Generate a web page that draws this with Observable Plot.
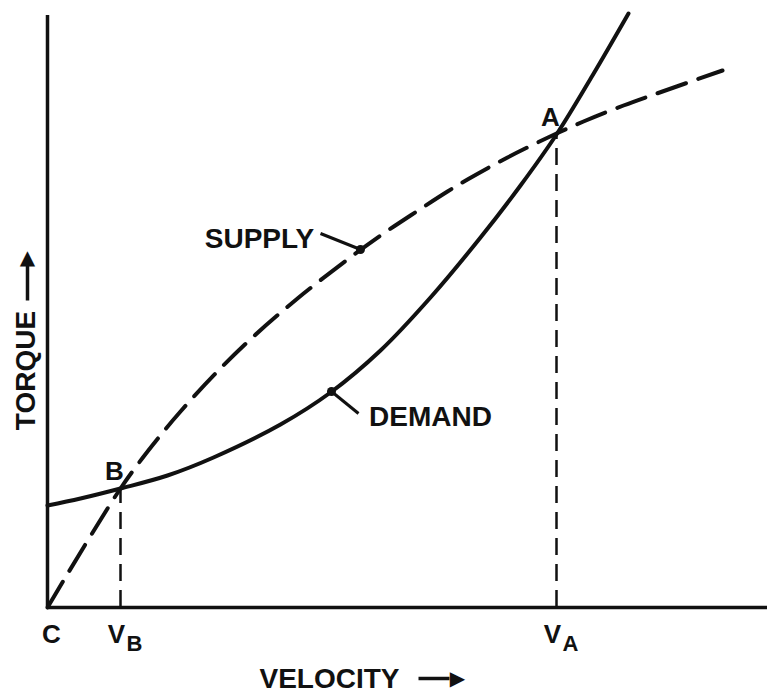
<!DOCTYPE html>
<html>
<head>
<meta charset="utf-8">
<script src="https://cdn.jsdelivr.net/npm/d3@7"></script>
<script src="https://cdn.jsdelivr.net/npm/@observablehq/plot@0.6"></script>
<style>
  html, body { margin: 0; padding: 0; background: #fff; }
</style>
</head>
<body>
<div id="chart"></div>
<script>
// Values (velocity, torque in arbitrary units)
const demandVelocity = [0, 33, 73, 120, 166, 233, 283, 333, 383, 433, 473, 509, 545, 581];
const demandTorque   = [102, 109, 119, 132, 150, 183, 215, 257, 310, 370, 422, 473, 532, 594];

const supplyVelocity = [0, 73, 108, 133, 168, 206, 250, 300, 333, 363, 400, 420, 460, 509, 536, 576, 615, 675];
const supplyTorque   = [0, 119, 166, 196, 234, 271, 309, 348, 372, 392, 416, 428, 450, 474, 486, 502, 516, 537];

const pointNames = ["B", "A"];           // intersections of supply and demand
const pointVelocity = [73, 509];
const pointTorque = [119, 473];

const axisMax = {velocity: 720, torque: 592};

const demand = demandVelocity.map((v, i) => ({v, t: demandTorque[i]}));
const supply = supplyVelocity.map((v, i) => ({v, t: supplyTorque[i]}));
const points = pointNames.map((n, i) => ({n, v: pointVelocity[i], t: pointTorque[i]}));

const ink = "#111";
const font = "Liberation Sans, Arial, sans-serif";

const chart = Plot.plot({
  width: 769,
  height: 695,
  margin: 0,
  style: {background: "#fff", fontFamily: font},
  x: {domain: [0, 720], range: [47, 767], axis: null},
  y: {domain: [0, 600], range: [607, 7], axis: null},
  marks: [
    // axes
    Plot.ruleX([0], {y1: 0, y2: axisMax.torque, stroke: ink, strokeWidth: 3.5}),
    Plot.ruleY([0], {x1: 0, x2: axisMax.velocity, stroke: ink, strokeWidth: 3.5}),
    // drop lines from the intersections
    Plot.ruleX(points, {x: "v", y1: 0, y2: "t", stroke: ink, strokeWidth: 2.5, strokeDasharray: "17,9"}),
    // demand (solid)
    Plot.line(demand, {x: "v", y: "t", curve: "catmull-rom", stroke: ink, strokeWidth: 4, strokeLinecap: "round"}),
    // supply (dashed)
    Plot.line(supply, {x: "v", y: "t", curve: "catmull-rom", stroke: ink, strokeWidth: 4, strokeLinecap: "round", strokeDasharray: "30,13"}),
    // leaders
    Plot.link([{x1: 273, y1: 374, x2: 313, y2: 358}], {x1: "x1", y1: "y1", x2: "x2", y2: "y2", stroke: ink, strokeWidth: 3}),
    Plot.dot([{x: 313, y: 358}], {x: "x", y: "y", r: 4.5, fill: ink}),
    Plot.link([{x1: 284, y1: 216, x2: 311, y2: 194}], {x1: "x1", y1: "y1", x2: "x2", y2: "y2", stroke: ink, strokeWidth: 3}),
    Plot.dot([{x: 284, y: 216}], {x: "x", y: "y", r: 4.5, fill: ink}),
    // curve labels
    Plot.text(["SUPPLY"], {x: 212, y: 360, text: d => d, fontSize: 28, fontWeight: "bold", fill: ink, textAnchor: "middle", lineAnchor: "bottom", fontFamily: font}),
    Plot.text(["DEMAND"], {x: 383, y: 182, text: d => d, fontSize: 28, fontWeight: "bold", fill: ink, textAnchor: "middle", lineAnchor: "bottom", fontFamily: font}),
    // point labels
    Plot.text(points, {x: d => d.v - 6, y: d => d.t + 9, text: "n", fontSize: 26, fontWeight: "bold", fill: ink, textAnchor: "middle", lineAnchor: "bottom", fontFamily: font}),
    Plot.text(["C"], {x: 4, y: -35, text: d => d, fontSize: 26, fontWeight: "bold", fill: ink, textAnchor: "middle", lineAnchor: "bottom", fontFamily: font}),
    // V_B and V_A under the axis
    Plot.text(points, {x: d => d.v - 4, y: -35, text: () => "V", fontSize: 26, fontWeight: "bold", fill: ink, textAnchor: "middle", lineAnchor: "bottom", fontFamily: font}),
    Plot.text(points, {x: d => d.v + 14, y: -43, text: "n", fontSize: 22, fontWeight: "bold", fill: ink, textAnchor: "middle", lineAnchor: "bottom", fontFamily: font}),
    // axis titles
    Plot.text(["VELOCITY"], {x: 282, y: -80, text: d => d, fontSize: 28, fontWeight: "bold", fill: ink, textAnchor: "middle", lineAnchor: "bottom", fontFamily: font}),
    Plot.link([{x1: 371, y1: -71, x2: 402, y2: -71}], {x1: "x1", y1: "y1", x2: "x2", y2: "y2", stroke: ink, strokeWidth: 3.5}),
    Plot.text(["\u25B6"], {x: 410, y: -71, text: d => d, fontSize: 20, fill: ink, textAnchor: "middle", lineAnchor: "middle", fontFamily: "DejaVu Sans"}),
    Plot.text(["TORQUE"], {x: -21, y: 237, text: d => d, rotate: -90, fontSize: 28, fontWeight: "bold", fill: ink, textAnchor: "middle", lineAnchor: "middle", fontFamily: font}),
    Plot.link([{x1: -20, y1: 307, x2: -20, y2: 342}], {x1: "x1", y1: "y1", x2: "x2", y2: "y2", stroke: ink, strokeWidth: 3.5}),
    Plot.text(["\u25B2"], {x: -20, y: 350, text: d => d, fontSize: 20, fill: ink, textAnchor: "middle", lineAnchor: "middle", fontFamily: "DejaVu Sans"})
  ]
});
document.getElementById("chart").appendChild(chart);
</script>
</body>
</html>
